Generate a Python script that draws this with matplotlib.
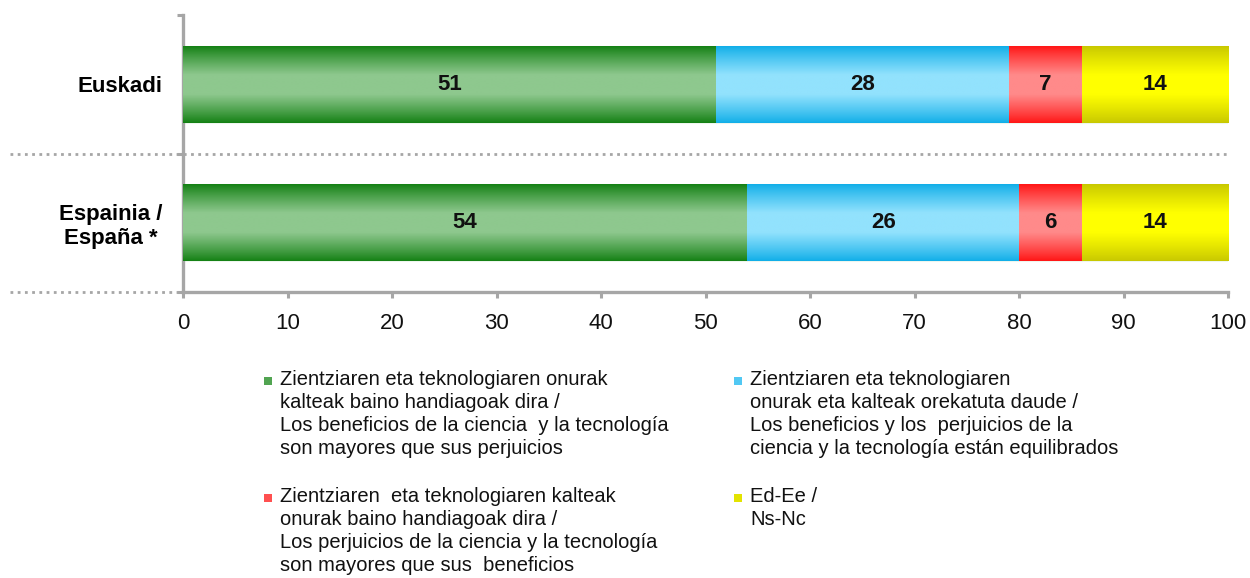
import numpy as np
import matplotlib
matplotlib.use('Agg')
import matplotlib.pyplot as plt
from matplotlib.colors import LinearSegmentedColormap, to_rgb
from matplotlib.patches import Rectangle

plt.rcParams['font.family'] = ['Liberation Sans', 'DejaVu Sans']

# datos
regiones = ['Euskadi', 'Espainia /\nEspaña *']
beneficios = [51, 54]
equilibrados = [28, 26]
perjuicios = [7, 6]
nsnc = [14, 14]

etiquetas = [
    'Zientziaren eta teknologiaren onurak\nkalteak baino handiagoak dira /\n'
    'Los beneficios de la ciencia  y la tecnología\nson mayores que sus perjuicios',
    'Zientziaren eta teknologiaren\nonurak eta kalteak orekatuta daude /\n'
    'Los beneficios y los  perjuicios de la\nciencia y la tecnología están equilibrados',
    'Zientziaren  eta teknologiaren kalteak\nonurak baino handiagoak dira /\n'
    'Los perjuicios de la ciencia y la tecnología\nson mayores que sus  beneficios',
    'Ed-Ee /\nNs-Nc',
]

# (oscuro, claro) para el degradado vertical
COLORES = [('#138013', '#8ec88e'), ('#10aee8', '#92e2fd'),
           ('#ff1515', '#ff8a8a'), ('#c8c800', '#ffff00')]
GRIS = '#a6a6a6'

W, H = 1250, 578
fig = plt.figure(figsize=(W / 100, H / 100), dpi=100, facecolor='white')
ax = fig.add_axes([183 / W, 1 - 292 / H, (1228 - 183) / W, (292 - 15) / H])

series = [beneficios, equilibrados, perjuicios, nsnc]
y = np.arange(len(regiones))
izq = np.zeros(len(regiones))
alto = 0.555

t = np.linspace(0, 1, 200)
perfil = np.clip((1 - np.abs(2 * t - 1)) / 0.75, 0, 1) ** 0.9
grad = perfil[:, None]

for vals, (osc, clr) in zip(series, COLORES):
    cmap = LinearSegmentedColormap.from_list('g', [osc, clr])
    bars = ax.barh(y, vals, left=izq, height=alto, color=clr,
                   edgecolor='#eef6ee', linewidth=0.8, zorder=2)
    for b, v in zip(bars, vals):
        x0, y0 = b.get_x(), b.get_y()
        ax.imshow(grad, cmap=cmap, vmin=0, vmax=1, aspect='auto',
                  extent=[x0, x0 + b.get_width(), y0 + b.get_height(), y0],
                  zorder=3, interpolation='bilinear')
        ax.text(x0 + b.get_width() / 2, y0 + b.get_height() / 2, str(v),
                ha='center', va='center', fontsize=16, fontweight='bold',
                color='#111111', zorder=5)
    izq = izq + np.array(vals)

ax.set_xlim(0, 100)
ax.set_ylim(1.5, -0.5)
ax.set_xticks(np.arange(0, 101, 10))
ax.tick_params(axis='x', direction='out', length=4, width=2.2, color=GRIS,
               labelsize=16, pad=11, labelcolor='#111111')
ax.set_yticks(y)
ax.set_yticklabels(regiones, fontsize=16, fontweight='bold', ha='right',
                   multialignment='center')
ax.tick_params(axis='y', length=0, pad=15)
ax.set_yticks([-0.5, 0.5, 1.5], minor=True)
ax.tick_params(axis='y', which='minor', direction='out', length=4, width=2.2,
               color=GRIS)

for s in ['top', 'right']:
    ax.spines[s].set_visible(False)
for s in ['left', 'bottom']:
    ax.spines[s].set_color(GRIS)
    ax.spines[s].set_linewidth(2.4)

# separadores punteados
xmin_ax = (10 - 183) / (1228 - 183)
tr = ax.get_yaxis_transform()
ax.plot([xmin_ax, 1], [0.5, 0.5], transform=tr, color=GRIS, lw=2,
        ls=(0, (1, 1.6)), clip_on=False, zorder=1)
ax.plot([xmin_ax, 0], [1.5, 1.5], transform=tr, color=GRIS, lw=2,
        ls=(0, (1, 1.6)), clip_on=False, zorder=1)

# leyenda
pos = [(264, 370), (734, 370), (264, 487), (734, 487)]
for i, (px, py) in enumerate(pos):
    osc, clr = COLORES[i]
    mid = 0.5 * (np.array(to_rgb(osc)) + np.array(to_rgb(clr)))
    fig.patches.append(Rectangle((px / W, 1 - (py + 15) / H), 8 / W, 8 / H,
                                 transform=fig.transFigure, facecolor=mid,
                                 edgecolor='none'))
    fig.text((px + 16) / W, 1 - py / H, etiquetas[i], ha='left', va='top',
             fontsize=14.5, linespacing=1.26, color='#111111')

fig.savefig('out.png', dpi=100, facecolor='white')
